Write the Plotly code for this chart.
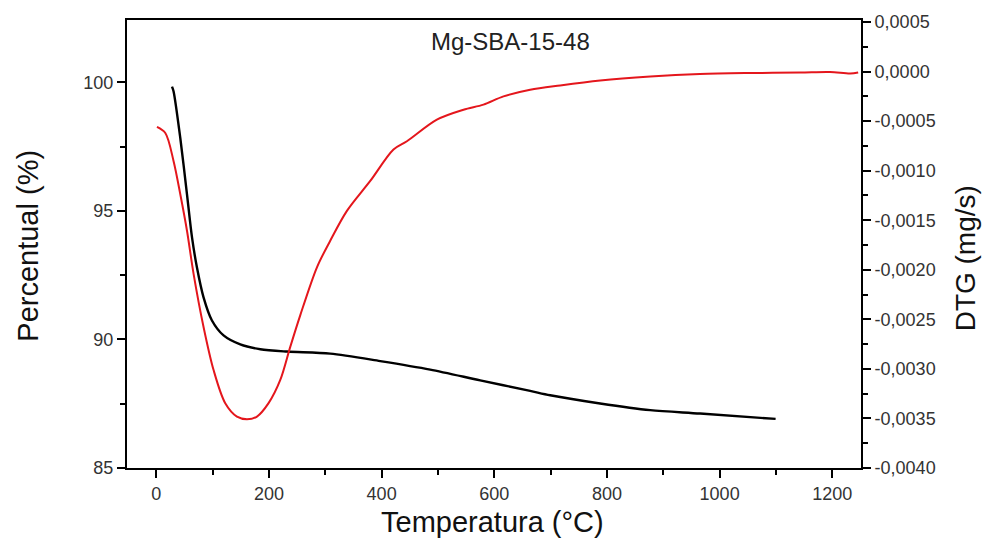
import plotly.graph_objects as go

# TG curve (mass, %) vs temperature (°C)
tg_temp = [27.9, 30.7, 42.6, 54.5, 63.4, 72.2, 83.9, 98.8, 119.4, 149.1, 184.6, 231.9,
           308.8, 397.5, 486.2, 575.0, 663.7, 699.2, 787.9, 876.7, 965.4, 1099.4]
tg_mass = [99.84, 99.65, 97.84, 95.65, 93.97, 92.80, 91.64, 90.74, 90.16, 89.81, 89.62, 89.53,
           89.45, 89.16, 88.83, 88.41, 88.00, 87.83, 87.51, 87.25, 87.12, 86.91]

# DTG curve (mg/s) vs temperature (°C)
dtg_temp = [1.2, 16.0, 30.7, 42.6, 54.5, 66.2, 83.9, 101.7, 122.4, 143.2, 161.0, 178.7,
            199.3, 220.1, 237.8, 255.5, 285.2, 308.8, 338.4, 379.8, 421.1, 444.9, 498.1,
            545.3, 580.8, 616.3, 663.7, 717.0, 788.0, 877.0, 965.0, 1054.0, 1143.0, 1196.0,
            1232.0, 1246.0]
dtg_rate = [-0.000559, -0.000620, -0.000904, -0.001238, -0.001606, -0.002041, -0.002577,
            -0.003012, -0.003346, -0.003481, -0.003507, -0.003481, -0.003346, -0.003112,
            -0.002778, -0.002460, -0.001975, -0.001707, -0.001406, -0.001104, -0.000786,
            -0.000703, -0.000485, -0.000385, -0.000334, -0.000251, -0.000184, -0.000140,
            -0.000090, -0.000050, -0.000025, -0.000015, -0.000010, -0.000005, -0.000020,
            -0.000010]

x_ticks = [0, 200, 400, 600, 800, 1000, 1200]
y_ticks = [85, 90, 95, 100]
y2_ticks = [0.0005, 0.0, -0.0005, -0.0010, -0.0015, -0.0020, -0.0025, -0.0030, -0.0035, -0.0040]
y2_labels = ["0,0005", "0,0000", "-0,0005", "-0,0010", "-0,0015", "-0,0020",
             "-0,0025", "-0,0030", "-0,0035", "-0,0040"]

FONT = "Liberation Sans, Arial, sans-serif"
TICK_COLOR = "#333333"

fig = go.Figure()
fig.add_trace(go.Scatter(x=dtg_temp, y=dtg_rate, yaxis="y2", mode="lines",
                         line=dict(color="rgb(228,22,28)", width=2, shape="spline", smoothing=0.9),
                         showlegend=False))
fig.add_trace(go.Scatter(x=tg_temp, y=tg_mass, mode="lines",
                         line=dict(color="black", width=2.4, shape="spline", smoothing=0.8),
                         showlegend=False))

axis_common = dict(showline=True, linecolor="black", linewidth=2, ticks="outside",
                   tickcolor="black", tickwidth=2, ticklen=8, showgrid=False, zeroline=False,
                   tickfont=dict(family=FONT, size=18, color=TICK_COLOR))
minor_common = dict(ticks="outside", ticklen=5, tickwidth=2, tickcolor="black")

fig.update_layout(
    width=989, height=541,
    margin=dict(l=127, r=128, t=18, b=73),
    paper_bgcolor="white", plot_bgcolor="white",
    xaxis=dict(range=[-52, 1251], tickvals=x_ticks, mirror=True,
               minor=dict(tickvals=[100, 300, 500, 700, 900, 1100], **minor_common),
               **axis_common),
    yaxis=dict(range=[85, 102.43], tickvals=y_ticks,
               minor=dict(tickvals=[87.5, 92.5, 97.5], **minor_common),
               **axis_common),
    yaxis2=dict(range=[-0.004, 0.00052], overlaying="y", side="right",
                tickvals=y2_ticks, ticktext=y2_labels,
                minor=dict(tickvals=[0.00025, -0.00025, -0.00075, -0.00125, -0.00175,
                                     -0.00225, -0.00275, -0.00325, -0.00375], **minor_common),
                **axis_common),
)

fig.add_annotation(text="Mg-SBA-15-48", xref="paper", yref="paper", x=0.523, y=0.952,
                   xanchor="center", yanchor="middle", showarrow=False,
                   font=dict(family=FONT, size=24, color="#222222"))
fig.add_annotation(text="Temperatura (°C)", xref="paper", yref="paper", x=0.498, y=-0.121,
                   xanchor="center", yanchor="middle", showarrow=False,
                   font=dict(family=FONT, size=29, color="#111111"))
fig.add_annotation(text="Percentual (%)", xref="paper", yref="paper", x=-0.135, y=0.496,
                   xanchor="center", yanchor="middle", textangle=-90, showarrow=False,
                   font=dict(family=FONT, size=29, color="#111111"))
fig.add_annotation(text="DTG (mg/s)", xref="paper", yref="paper", x=1.1417, y=0.468,
                   xanchor="center", yanchor="middle", textangle=-90, showarrow=False,
                   font=dict(family=FONT, size=28, color="#111111"))

fig.write_html("out.html")
